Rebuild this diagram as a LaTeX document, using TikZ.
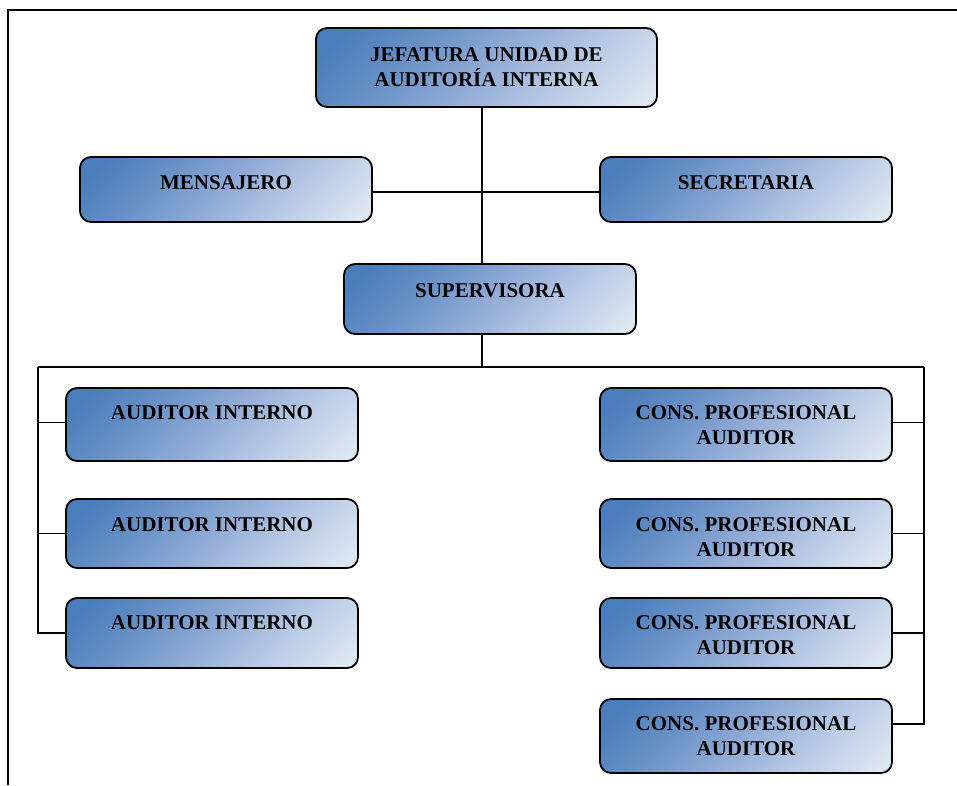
\documentclass[tikz,border=0pt]{standalone}
\usepackage{fontspec}
\setmainfont{Liberation Serif}
\definecolor{boxdark}{HTML}{4A7DBB}
\definecolor{boxmidA}{HTML}{6690C6}
\definecolor{boxmid}{HTML}{90ABD6}
\definecolor{boxlightA}{HTML}{BACBE6}
\definecolor{boxlight}{HTML}{DDE7F2}
\pgfdeclareverticalshading{boxgrad}{100bp}{color(0bp)=(boxlight); color(18bp)=(boxlight); color(34bp)=(boxlightA); color(50bp)=(boxmid); color(66bp)=(boxmidA); color(80bp)=(boxdark); color(100bp)=(boxdark)}
\tikzset{
  orgbox/.style={draw=black, line width=1.8pt, rounded corners=11pt, inner sep=0pt,
    shading=boxgrad, shading angle=45, minimum width=292pt},
  lbl/.style={font=\bfseries\fontsize{21}{25}\selectfont, align=center, inner sep=0pt, text=black},
  conn/.style={draw=black, line width=1.6pt}
}
\begin{document}
\begin{tikzpicture}[x=1pt,y=-1pt]
\useasboundingbox (0,0) rectangle (957,785);
\fill[white] (0,0) rectangle (957,785);
% frame
\draw[line width=2.4pt] (8,785) -- (8,10) -- (957,10);
% boxes
\node[orgbox, minimum width=341pt, minimum height=79pt] (jef) at (486.5,67.5) {};
\node[orgbox, minimum height=65pt] (mens) at (226,189.5) {};
\node[orgbox, minimum height=65pt] (sec) at (746,189.5) {};
\node[orgbox, minimum height=70pt] (sup) at (490,299) {};
\node[orgbox, minimum height=73pt] (ai1) at (212,424.5) {};
\node[orgbox, minimum height=69pt] (ai2) at (212,533.5) {};
\node[orgbox, minimum height=70pt] (ai3) at (212,633) {};
\node[orgbox, minimum height=73pt] (cp1) at (746,424.5) {};
\node[orgbox, minimum height=69pt] (cp2) at (746,533.5) {};
\node[orgbox, minimum height=70pt] (cp3) at (746,633) {};
\node[orgbox, minimum height=74pt] (cp4) at (746,736) {};
% labels
\node[lbl] (jeft) at (486.5,67) {JEFATURA UNIDAD DE\\AUDITORÍA INTERNA};
\node[lbl] (menst) at (226,183) {MENSAJERO};
\node[lbl] (sect) at (746,183) {SECRETARIA};
\node[lbl] (supt) at (490,290.5) {SUPERVISORA};
\node[lbl] (ai1t) at (212,413) {AUDITOR INTERNO};
\node[lbl] (ai2t) at (212,525) {AUDITOR INTERNO};
\node[lbl] (ai3t) at (212,623) {AUDITOR INTERNO};
\node[lbl] (cp1t) at (746,425.5) {CONS. PROFESIONAL\\AUDITOR};
\node[lbl] (cp2t) at (746,537) {CONS. PROFESIONAL\\AUDITOR};
\node[lbl] (cp3t) at (746,635) {CONS. PROFESIONAL\\AUDITOR};
\node[lbl] (cp4t) at (746,736.5) {CONS. PROFESIONAL\\AUDITOR};
% connector coordinates
\coordinate (cx) at (482,0);
\coordinate (bus) at (482,367);
\coordinate (bl) at (38,367);
\coordinate (br) at (924,367);
% connectors
\draw[conn] (jef.south -| cx) -- (sup.north -| cx);
\draw[conn] ([yshift=-2.5pt]mens.east) -- ([yshift=-2.5pt]sec.west);
\draw[conn] (sup.south -| cx) -- (bus);
\draw[conn] (bl) -- (br);
\draw[conn] (bl) |- (ai3.west);
\draw[conn] ([yshift=2pt]ai1.west) -- ([yshift=2pt]ai1.west -| bl);
\draw[conn] (ai2.west) -- (ai2.west -| bl);
\draw[conn] (br) |- ([yshift=12pt]cp4.east);
\draw[conn] ([yshift=2pt]cp1.east) -- ([yshift=2pt]cp1.east -| br);
\draw[conn] (cp2.east) -- (cp2.east -| br);
\draw[conn] (cp3.east) -- (cp3.east -| br);
\end{tikzpicture}
\end{document}
